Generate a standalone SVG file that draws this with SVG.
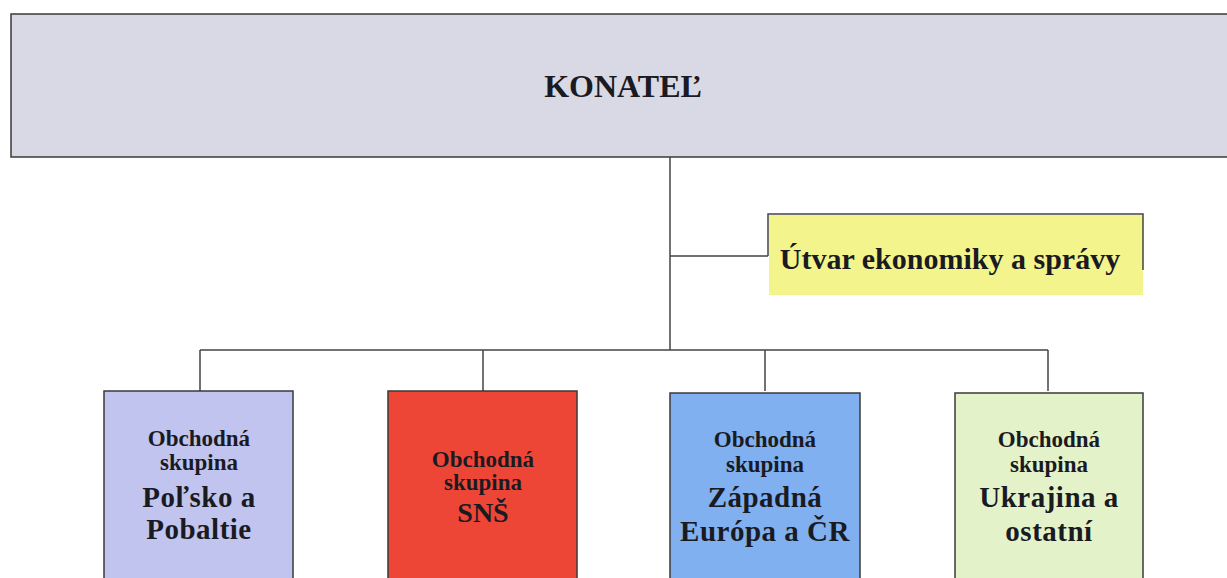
<svg xmlns="http://www.w3.org/2000/svg" width="1227" height="578" viewBox="0 0 1227 578">
<style>
.t{font-family:"Liberation Serif","Times New Roman",serif;font-weight:bold;fill:#1a1a22;text-anchor:middle}
.s{font-size:23px}
.b{font-size:29px;letter-spacing:0.5px}
.box{stroke:#3a3a3a;stroke-width:1.5}
.ln{stroke:#444;stroke-width:1.5;fill:none}
</style>
<rect width="1227" height="578" fill="#ffffff"/>
<g id="konatel">
<rect class="box" x="11" y="14" width="1230" height="143" fill="#d9d9e5"/>
<text class="t" x="623" y="97" font-size="32">KONATEĽ</text>
</g>
<g id="connectors">
<path class="ln" d="M670 157V350M670 256H768M200 350H1048M200 350V391M483 350V391M765 350V391M1048 350V391"/>
</g>
<g id="utvar">
<rect x="769" y="215" width="374" height="80" fill="#f4f48c"/>
<path class="ln" d="M768 256V214H1143V270"/>
<text class="t" x="950" y="269" font-size="30">Útvar ekonomiky a správy</text>
</g>
<g id="polsko">
<rect class="box" x="104" y="391" width="189" height="200" fill="#c0c4ee"/>
<text class="t s" x="199" y="446">Obchodná</text>
<text class="t s" x="199" y="470">skupina</text>
<text class="t b" x="199" y="507">Poľsko a</text>
<text class="t b" x="199" y="539">Pobaltie</text>
</g>
<g id="sns">
<rect class="box" x="388" y="391" width="189" height="200" fill="#ee4636"/>
<text class="t s" x="483" y="467">Obchodná</text>
<text class="t s" x="483" y="490">skupina</text>
<text class="t" x="483" y="522" font-size="28">SNŠ</text>
</g>
<g id="zapadna">
<rect class="box" x="670" y="393" width="190" height="200" fill="#80b0f0"/>
<text class="t s" x="765" y="447">Obchodná</text>
<text class="t s" x="765" y="472">skupina</text>
<text class="t b" x="765" y="507">Západná</text>
<text class="t b" x="765" y="541">Európa a ČR</text>
</g>
<g id="ukrajina">
<rect class="box" x="955" y="393" width="188" height="200" fill="#e3f2c9"/>
<text class="t s" x="1049" y="447">Obchodná</text>
<text class="t s" x="1049" y="472">skupina</text>
<text class="t b" x="1049" y="507">Ukrajina a</text>
<text class="t b" x="1049" y="541">ostatní</text>
</g>
</svg>
